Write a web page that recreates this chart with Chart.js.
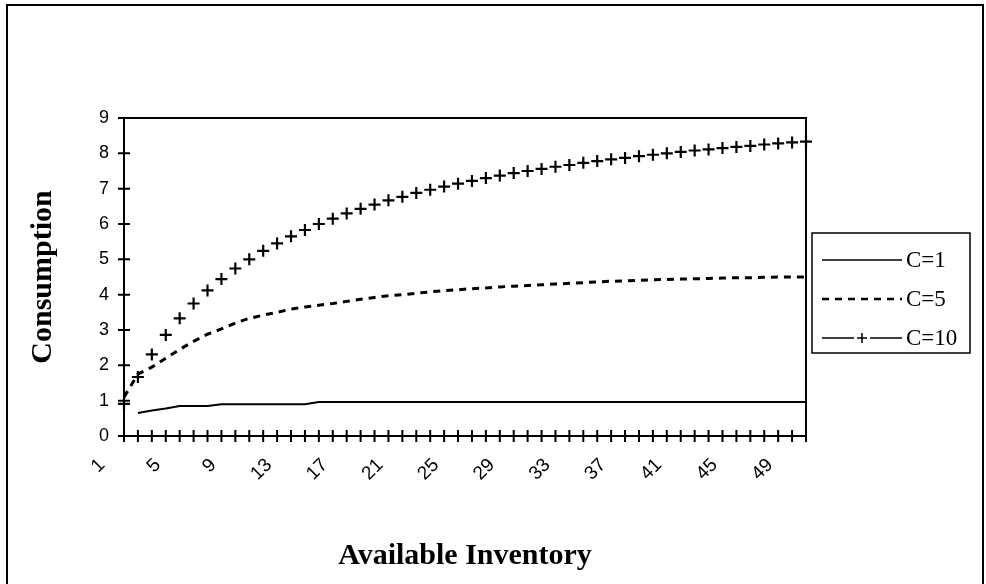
<!DOCTYPE html>
<html>
<head>
<meta charset="utf-8">
<title>Consumption vs Available Inventory</title>
<script src="https://cdn.jsdelivr.net/npm/chart.js@4.4.1/dist/chart.umd.min.js"></script>
<style>
  html, body { margin: 0; padding: 0; background: #fff; }
  #wrap { position: relative; width: 986px; height: 584px; overflow: hidden; }
  #frame {
    position: absolute; left: 6px; top: 4px; width: 978px; height: 620px;
    border: 2px solid #000; box-sizing: border-box; pointer-events: none;
  }
  canvas { position: absolute; left: 0; top: 0; }
</style>
</head>
<body>
<div id="wrap">
  <canvas id="linechart" width="986" height="584"></canvas>
  <div id="frame"></div>
</div>
<script>
'use strict';

// available inventory (x categories)
const inventory = [
  1, 2, 3, 4, 5, 6, 7, 8, 9, 10,
  11, 12, 13, 14, 15, 16, 17, 18, 19, 20,
  21, 22, 23, 24, 25, 26, 27, 28, 29, 30,
  31, 32, 33, 34, 35, 36, 37, 38, 39, 40,
  41, 42, 43, 44, 45, 46, 47, 48, 49, 50
];

// only every fourth category gets a label
const tickLabels = ['1', '5', '9', '13', '17', '21', '25', '29', '33', '37', '41', '45', '49'];

const seriesNames = ['C=1', 'C=5', 'C=10'];

// consumption
const consC1 = [
  null, 0.65, 0.72, 0.78, 0.85, 0.85, 0.85, 0.90, 0.90, 0.90,
  0.90, 0.90, 0.90, 0.90, 0.96, 0.96, 0.96, 0.96, 0.96, 0.96,
  0.96, 0.96, 0.96, 0.96, 0.96, 0.96, 0.96, 0.96, 0.96, 0.96,
  0.96, 0.96, 0.96, 0.96, 0.96, 0.96, 0.96, 0.96, 0.96, 0.96,
  0.96, 0.96, 0.96, 0.96, 0.96, 0.96, 0.96, 0.96, 0.96, 0.96
];

const consC5 = [
  1.10, 1.75, 1.95, 2.20, 2.45, 2.68, 2.88, 3.03, 3.20, 3.33,
  3.42, 3.50, 3.59, 3.65, 3.70, 3.75, 3.81, 3.87, 3.92, 3.97,
  4.00, 4.04, 4.08, 4.11, 4.14, 4.17, 4.19, 4.22, 4.24, 4.26,
  4.28, 4.30, 4.32, 4.34, 4.36, 4.38, 4.39, 4.41, 4.42, 4.43,
  4.44, 4.45, 4.46, 4.47, 4.48, 4.48, 4.49, 4.50, 4.50, 4.50
];

const consC10 = [
  0.91, 1.67, 2.31, 2.86, 3.33, 3.75, 4.12, 4.44, 4.74, 5.00,
  5.24, 5.45, 5.65, 5.83, 6.00, 6.15, 6.30, 6.43, 6.55, 6.67,
  6.77, 6.88, 6.97, 7.06, 7.14, 7.22, 7.30, 7.37, 7.44, 7.50,
  7.56, 7.62, 7.67, 7.73, 7.78, 7.83, 7.87, 7.92, 7.96, 8.00,
  8.04, 8.08, 8.11, 8.15, 8.18, 8.21, 8.25, 8.28, 8.31, 8.33
];

const DASH = [7, 6];
const X_TICK_FONT = { family: "'Liberation Sans', Arial, sans-serif", size: 19 };
const Y_TICK_FONT = { family: "'Liberation Sans', Arial, sans-serif", size: 18 };
const TITLE_FONT = { family: "'Liberation Serif', 'Times New Roman', serif", size: 30, weight: 'bold' };
const LEGEND_FONT = "23px 'Liberation Serif', 'Times New Roman', serif";

// tick marks that cross the axes, plus the top/right edge of the plot box
const axisCross = {
  id: 'axisCross',
  afterDatasetsDraw(chart) {
    const { ctx, chartArea, scales: { x, y } } = chart;
    ctx.save();
    ctx.strokeStyle = '#000';
    ctx.lineWidth = 2;
    ctx.beginPath();
    ctx.moveTo(chartArea.left, chartArea.top);
    ctx.lineTo(chartArea.right, chartArea.top);
    ctx.lineTo(chartArea.right, chartArea.bottom);
    x.ticks.forEach((t, i) => {
      const px = x.getPixelForTick(i);
      ctx.moveTo(px, chartArea.bottom - 6);
      ctx.lineTo(px, chartArea.bottom + 6);
    });
    y.ticks.forEach((t, i) => {
      const py = y.getPixelForTick(i);
      ctx.moveTo(chartArea.left - 6, py);
      ctx.lineTo(chartArea.left + 6, py);
    });
    ctx.stroke();
    ctx.restore();
  }
};

// boxed legend on the right, old spreadsheet style
const sideLegend = {
  id: 'sideLegend',
  afterDraw(chart) {
    const { ctx, chartArea } = chart;
    const left = chartArea.right + 6;
    const top = chartArea.top + 115;
    const w = 158, h = 120;
    ctx.save();
    ctx.strokeStyle = '#000';
    ctx.lineWidth = 1.5;
    ctx.strokeRect(left, top, w, h);

    ctx.font = LEGEND_FONT;
    ctx.fillStyle = '#000';
    ctx.textBaseline = 'middle';
    chart.data.datasets.forEach((ds, i) => {
      const cy = top + 27 + i * 39;
      const x0 = left + 10, x1 = left + 90, mid = (x0 + x1) / 2;
      ctx.lineWidth = 1.5;
      ctx.beginPath();
      if (ds.pointStyle === 'cross') {
        ctx.setLineDash([]);
        ctx.moveTo(x0, cy); ctx.lineTo(mid - 8, cy);
        ctx.moveTo(mid + 8, cy); ctx.lineTo(x1, cy);
        ctx.moveTo(mid - 5, cy); ctx.lineTo(mid + 5, cy);
        ctx.moveTo(mid, cy - 5); ctx.lineTo(mid, cy + 5);
      } else {
        ctx.setLineDash(ds.borderDash || []);
        ctx.lineWidth = ds.borderDash ? 2.5 : 1.5;
        ctx.moveTo(x0, cy); ctx.lineTo(x1, cy);
      }
      ctx.stroke();
      ctx.setLineDash([]);
      ctx.fillText(ds.label, left + 94, cy + 1);
    });
    ctx.restore();
  }
};

const data = {
  labels: inventory,
  datasets: [
    {
      label: seriesNames[0],
      data: consC1,
      borderColor: '#000',
      borderWidth: 2,
      pointRadius: 0,
      tension: 0
    },
    {
      label: seriesNames[1],
      data: consC5,
      borderColor: '#000',
      borderWidth: 3,
      borderDash: DASH,
      pointRadius: 0,
      tension: 0
    },
    {
      label: seriesNames[2],
      data: consC10,
      showLine: false,
      pointStyle: 'cross',
      pointRadius: 6,
      pointBorderWidth: 2.2,
      pointBorderColor: '#000',
      borderColor: '#000'
    }
  ]
};

const options = {
  responsive: false,
  animation: false,
  devicePixelRatio: 1,
  layout: { padding: { left: 0, top: 118, right: 180, bottom: 0 } },
  plugins: {
    legend: { display: false },
    tooltip: { enabled: false }
  },
  scales: {
    x: {
      type: 'category',
      offset: false,
      grid: { display: false, drawTicks: false },
      border: { display: true, color: '#000', width: 2 },
      ticks: {
        autoSkip: false,
        minRotation: 45,
        maxRotation: 45,
        padding: 18,
        labelOffset: -22,
        color: '#000',
        font: X_TICK_FONT,
        callback: (val, idx) => {
          const lab = String(inventory[idx]);
          return tickLabels.includes(lab) ? lab : '';
        }
      },
      title: {
        display: true,
        text: 'Available Inventory',
        color: '#000',
        font: TITLE_FONT,
        padding: { top: 0, bottom: 10 }
      },
      afterFit: (scale) => { scale.height = 148; }
    },
    y: {
      min: 0,
      max: 9,
      grid: { display: false, drawTicks: false },
      border: { display: true, color: '#000', width: 2 },
      ticks: { stepSize: 1, padding: 15, color: '#000', font: Y_TICK_FONT },
      title: {
        display: true,
        text: 'Consumption',
        color: '#000',
        font: TITLE_FONT,
        padding: { top: 25, bottom: 0 }
      },
      afterFit: (scale) => { scale.width = 124; }
    }
  }
};

new Chart(document.getElementById('linechart').getContext('2d'), {
  type: 'line',
  data,
  options,
  plugins: [axisCross, sideLegend]
});
</script>
</body>
</html>
